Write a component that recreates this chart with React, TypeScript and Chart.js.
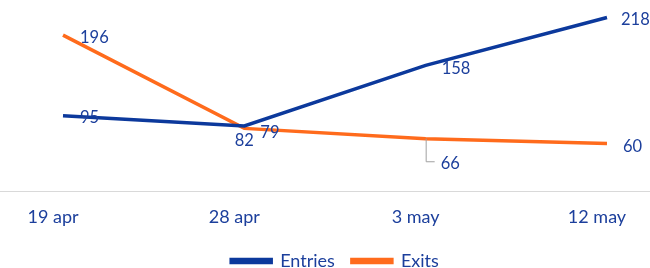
import React, { useEffect, useRef } from "react";
import { Chart, registerables } from "chart.js";

Chart.register(...registerables);

const categories = ["19 apr", "28 apr", "3 may", "12 may"];
const entries = [95, 82, 158, 218];
const exits = [196, 79, 66, 60];

const BLUE = "#0c399c";
const ORANGE = "#ff6b1c";
const TEXT = "#1c3f9c";
const FONT = "Lato, 'Open Sans', sans-serif";

// label placement per dataset/point: [dx, dy, align, leader]
const placement: Record<number, Array<[number, number, CanvasTextAlign, boolean]>> = {
  0: [
    [17, 2, "left", false],
    [0, 15, "center", false],
    [16, 3, "left", false],
    [14, 2, "left", false],
  ],
  1: [
    [17, 3, "left", false],
    [16, 4, "left", false],
    [15, 25, "left", true],
    [16, 3, "left", false],
  ],
};

const labelPlugin = {
  id: "pointLabels",
  afterDatasetsDraw(chart: any) {
    const ctx = chart.ctx;
    ctx.save();
    ctx.font = `16.5px ${FONT}`;
    ctx.fillStyle = TEXT;
    ctx.textBaseline = "middle";
    chart.data.datasets.forEach((ds: any, di: number) => {
      const meta = chart.getDatasetMeta(di);
      meta.data.forEach((pt: any, i: number) => {
        const [dx, dy, align, leader] = placement[di][i];
        const x = pt.x;
        const y = pt.y;
        if (leader) {
          ctx.strokeStyle = "#a0a0a0";
          ctx.lineWidth = 1;
          ctx.beginPath();
          ctx.moveTo(x + 0.5, y);
          ctx.lineTo(x + 0.5, y + dy - 2);
          ctx.lineTo(x + 9, y + dy - 2);
          ctx.stroke();
        }
        ctx.textAlign = align;
        ctx.fillText(String(ds.data[i]), x + dx, y + dy);
      });
    });
    ctx.restore();
  },
};

const baselinePlugin = {
  id: "baseline",
  beforeDatasetsDraw(chart: any) {
    const ctx = chart.ctx;
    const y = Math.round(chart.scales.y.getPixelForValue(0)) + 0.5;
    ctx.save();
    ctx.strokeStyle = "#d9d9d9";
    ctx.lineWidth = 1;
    ctx.beginPath();
    ctx.moveTo(0, y);
    ctx.lineTo(chart.width, y);
    ctx.stroke();
    ctx.restore();
  },
};

export default function App() {
  const ref = useRef<HTMLCanvasElement>(null);
  useEffect(() => {
    if (!ref.current) return;
    const chart = new Chart(ref.current, {
      type: "line",
      data: {
        labels: categories,
        datasets: [
          {
            label: "Entries",
            data: entries,
            borderColor: BLUE,
            backgroundColor: BLUE,
            borderWidth: 3.5,
            pointRadius: 0,
            tension: 0,
          },
          {
            label: "Exits",
            data: exits,
            borderColor: ORANGE,
            backgroundColor: ORANGE,
            borderWidth: 3.5,
            pointRadius: 0,
            tension: 0,
          },
        ],
      },
      options: {
        animation: false,
        responsive: false,
        maintainAspectRatio: false,
        layout: { padding: { left: 63, right: 43, top: 0, bottom: -12 } },
        scales: {
          x: {
            offset: false,
            grid: { display: false },
            border: { display: false },
            ticks: {
              color: TEXT,
              font: { family: FONT, size: 18 },
              labelOffset: -10,
              padding: 7,
              maxRotation: 0,
            },
          },
          y: {
            display: false,
            min: 0,
            max: 240,
          },
        },
        plugins: {
          legend: {
            position: "bottom",
            labels: {
              color: TEXT,
              font: { family: FONT, size: 18 },
              boxWidth: 40,
              boxHeight: 3,
              padding: 17,
            },
          },
          tooltip: { enabled: false },
        },
      },
      plugins: [labelPlugin, baselinePlugin],
    });
    return () => chart.destroy();
  }, []);
  return (
    <div style={{ position: "absolute", left: 0, top: 0, width: 650, height: 268 }}>
      <canvas ref={ref} width={650} height={268} style={{ width: 650, height: 268 }} />
    </div>
  );
}
